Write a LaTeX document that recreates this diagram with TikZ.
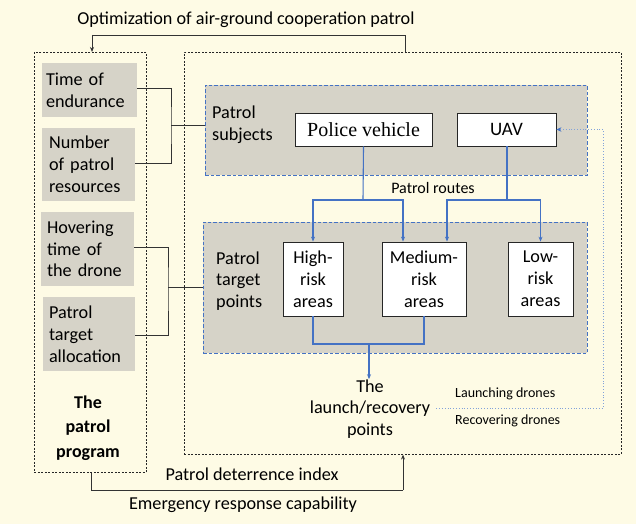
\documentclass[tikz,border=0pt]{standalone}
\usepackage{fontspec}
\setmainfont{Carlito}
\newfontfamily\seriffont{Liberation Serif}
\usetikzlibrary{arrows.meta,calc}
\definecolor{bg}{RGB}{254,251,229}
\definecolor{boxgray}{RGB}{214,211,200}
\definecolor{lineblue}{RGB}{68,114,196}
\definecolor{dotblue}{RGB}{130,162,218}
\begin{document}
\begin{tikzpicture}[x=1pt,y=-1pt,
  font=\fontsize{18.2}{21.8}\selectfont,
  graybox/.style={fill=boxgray, inner xsep=4pt, inner ysep=0pt, align=left, anchor=center},
  whitebox/.style={draw=black!85, fill=white, line width=0.8pt, inner sep=0pt, align=center, anchor=center},
  bigframe/.style={draw=black!85, line width=0.6pt, dash pattern=on 2pt off 1.5pt},
  panel/.style={fill=boxgray, draw=lineblue, line width=0.9pt, dash pattern=on 3.5pt off 2pt},
  blk/.style={draw=black!80, line width=0.8pt},
  blkarrow/.style={blk, -{Stealth[length=5pt,width=4pt]}},
  bl/.style={draw=lineblue, line width=1.1pt},
  blarrow/.style={bl, -{Stealth[length=5pt,width=4pt]}},
  lbl/.style={inner sep=0pt},
  small/.style={inner sep=0pt, font=\fontsize{14}{16}\selectfont}
]
\fill[bg] (0,0) rectangle (636,524);
\useasboundingbox (0,0) rectangle (636,524);

% big frames
\node[bigframe, minimum width=112pt, minimum height=420pt, inner sep=0pt, anchor=north west] (prog) at (34,52) {};
\node[bigframe, minimum width=437pt, minimum height=402pt, inner sep=0pt, anchor=north west] (sys) at (184,52) {};

% panels
\node[panel, minimum width=382pt, minimum height=90pt, inner sep=0pt, anchor=north west] (subjects) at (205,85) {};
\node[panel, minimum width=384pt, minimum height=131pt, inner sep=0pt, anchor=north west] (targets) at (203,222) {};

% gray boxes
\node[graybox, text width=87pt, minimum height=54pt] (time) at (89.5,90) {Time of\\endurance};
\node[graybox, text width=85pt, minimum height=73pt] (number) at (88.5,164.5) {\hspace*{3pt}Number\\\hspace*{3pt}of patrol\\\hspace*{3pt}resources};
\node[graybox, text width=85pt, minimum height=74pt] (hover) at (87.5,249) {\hspace*{2pt}Hovering\\\hspace*{2pt}time of\\\hspace*{2pt}the drone};
\node[graybox, text width=84pt, minimum height=74pt] (alloc) at (89,334) {\hspace*{2pt}Patrol\\\hspace*{2pt}target\\\hspace*{2pt}allocation};

\node[lbl, align=center, font=\bfseries\fontsize{18}{24.5}\selectfont] (progtext) at (88,428) {The\\patrol\\program};

% panel labels
\node[lbl, align=left, anchor=west] (subjlbl) at (212,125) {Patrol\\subjects};
\node[lbl, align=left, anchor=west] (tgtlbl) at (216,281) {Patrol\\target\\points};

% white boxes
\node[whitebox, minimum width=137pt, minimum height=33pt, font=\seriffont\fontsize{20}{24}\selectfont] (police) at (363.5,129.5) {Police vehicle};
\node[whitebox, minimum width=99pt, minimum height=33pt, font=\fontsize{19}{23}\selectfont] (uav) at (506.5,129.5) {UAV};
\node[whitebox, minimum width=60pt, minimum height=74pt] (high) at (313,279) {High-\\risk\\areas};
\node[whitebox, minimum width=84pt, minimum height=74pt] (medium) at (424,279) {Medium-\\risk\\areas};
\node[whitebox, minimum width=65pt, minimum height=74pt] (low) at (540.5,279) {Low-\\risk\\areas};

\node[lbl, font=\fontsize{16}{19}\selectfont] (routes) at (433,188) {Patrol routes};

\node[lbl, align=center] (launch) at (370,409) {The\\launch/recovery\\points};
\node[small, anchor=west] (launching) at (455,394) {Launching drones};
\node[small, anchor=west] (recovering) at (455,421) {Recovering drones};

\node[lbl] (optim) at (246,20) {Optimization of air-ground cooperation patrol};
\node[lbl] (deter) at (252,474) {Patrol deterrence index};
\node[lbl] (emerg) at (243,505) {Emergency response capability};

% left connectors
\coordinate (j1) at (171,125);
\draw[blk] (time.east |- 0,88) -| (j1) |- (number.east |- 0,163);
\draw[blk] (j1) -- (subjects.west |- j1);
\coordinate (j2) at (168,287);
\draw[blk] (hover.east |- 0,247) -| (j2) |- (alloc.east |- 0,335);
\draw[blk] (j2) -- (targets.west |- j2);

% top and bottom feedback
\coordinate (t1) at (405,35);
\coordinate (t2) at (92,35);
\draw[blk] (sys.north -| t1) -- (t1) -- (t2);
\draw[blkarrow] (t2) -- (prog.north -| t2);
\coordinate (b1) at (91,490);
\coordinate (b2) at (403,490);
\draw[blk] (prog.south -| b1) -- (b1) -- (b2);
\draw[blkarrow] (b2) -- (sys.south -| b2);

% blue routes
\coordinate (pj) at (363,200);
\draw[bl] (police.south) -- (pj);
\draw[blarrow] (pj) -| (high.north);
\draw[blarrow] (pj) -| ([xshift=-21pt]medium.north);
\coordinate (uj) at (507,200);
\draw[bl] (uav.south -| uj) -- (uj);
\draw[blarrow] (uj) -| ([xshift=23pt]medium.north);
\draw[blarrow] (uj) -| (low.north);

\coordinate (m1) at (369,344);
\draw[bl] (high.south) |- (m1) -| (medium.south);
\draw[blarrow] (m1) -- (launch.north -| m1);

% dotted drone link
\coordinate (d1) at (603,408);
\draw[draw=dotblue, line width=0.8pt, dotted, -{Stealth[length=5pt,width=4.5pt,color=lineblue]}] (launch.east |- d1) ++(6,0) -- (d1) |- (uav.east);
\end{tikzpicture}
\end{document}
